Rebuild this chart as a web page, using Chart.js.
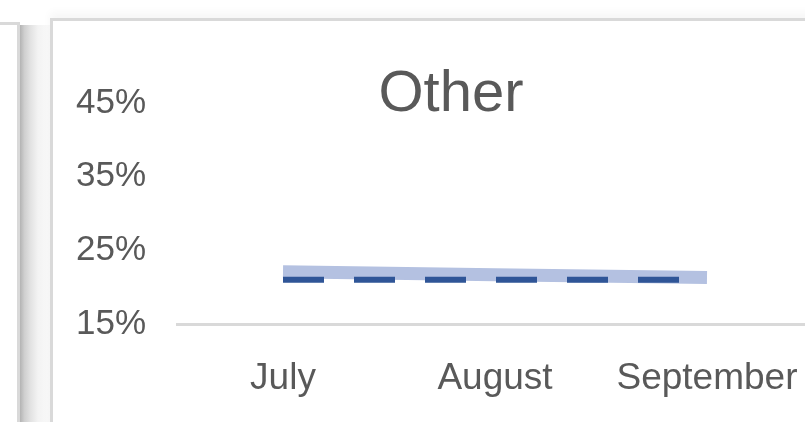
<!DOCTYPE html>
<html>
<head>
<meta charset="utf-8">
<script src="https://cdn.jsdelivr.net/npm/chart.js@4/dist/chart.umd.min.js"></script>
<style>
  html, body { margin: 0; padding: 0; background: #ffffff; overflow: hidden; width: 805px; height: 422px; }
  #wrap { position: relative; width: 805px; height: 422px; overflow: hidden; }
  .leftpanel { position: absolute; left: -20px; top: 22px; width: 37px; height: 420px; border-top: 3px solid #d9d9d9; border-right: 3px solid #d9d9d9; }
  .shadow { position: absolute; left: 20px; top: 25px; width: 30px; height: 400px;
    background: linear-gradient(to right, #b3b3b3 0%, #cfcfcf 15%, #e2e2e2 35%, #f3f3f3 60%, #fafafa 100%); }
  .rightpanel { position: absolute; left: 50px; top: 18px; width: 800px; height: 420px; border-top: 3px solid #d9d9d9; border-left: 3px solid #d9d9d9; background: #fff;
    box-shadow: 0 -6px 8px rgba(0,0,0,0.035); }
  canvas { position: absolute; left: 0; top: 0; }
</style>
</head>
<body>
<div id="wrap">
  <div class="leftpanel"></div>
  <div class="shadow"></div>
  <div class="rightpanel"></div>
  <canvas id="c" width="840" height="422" style="width:840px;height:422px"></canvas>
</div>
<script>
const chartTitle = 'Other';
const categories = ['July', 'August', 'September'];
const bandValues = [22.1, 21.7, 21.3];
const dashedValues = [21.0, 21.0, 21.0];
const yTickValues = [15, 25, 35, 45];

const FONT = "'Liberation Sans', Arial, sans-serif";
const TEXT = '#595959';

const titlePlugin = {
  id: 'panelTitle',
  afterDraw(chart) {
    const ctx = chart.ctx;
    ctx.save();
    ctx.font = '58px ' + FONT;
    ctx.fillStyle = TEXT;
    ctx.textAlign = 'center';
    ctx.textBaseline = 'alphabetic';
    ctx.fillText(chartTitle, 451, 111);
    ctx.restore();
  }
};

new Chart(document.getElementById('c'), {
  type: 'line',
  data: {
    labels: categories,
    datasets: [
      {
        label: 'Other (dashed)',
        data: dashedValues,
        borderColor: '#2f5597',
        borderWidth: 6,
        borderDash: [41, 30],
        borderCapStyle: 'butt',
        pointRadius: 0,
        tension: 0,
        fill: false
      },
      {
        label: 'Other',
        data: bandValues,
        borderColor: '#b4c1e1',
        borderWidth: 13,
        borderCapStyle: 'butt',
        pointRadius: 0,
        tension: 0,
        fill: false
      }
    ]
  },
  options: {
    responsive: false,
    animation: false,
    layout: { padding: { top: 103, right: 27, bottom: 0, left: 0 } },
    plugins: { legend: { display: false }, tooltip: { enabled: false }, title: { display: false } },
    scales: {
      x: {
        offset: true,
        grid: { display: false, drawTicks: false },
        border: { display: true, color: '#d9d9d9', width: 3 },
        ticks: { color: TEXT, font: { family: FONT, size: 37 }, padding: 33, maxRotation: 0, autoSkip: false },
        afterFit(scale) { scale.height = 98; }
      },
      y: {
        min: 15,
        max: 45,
        grid: { display: false, drawTicks: false },
        border: { display: false },
        afterBuildTicks(scale) { scale.ticks = yTickValues.map(v => ({ value: v })); },
        ticks: { color: TEXT, font: { family: FONT, size: 35 }, padding: 31, callback: v => v + '%' },
        afterFit(scale) { scale.width = 177; }
      }
    }
  },
  plugins: [titlePlugin]
});
</script>
</body>
</html>
